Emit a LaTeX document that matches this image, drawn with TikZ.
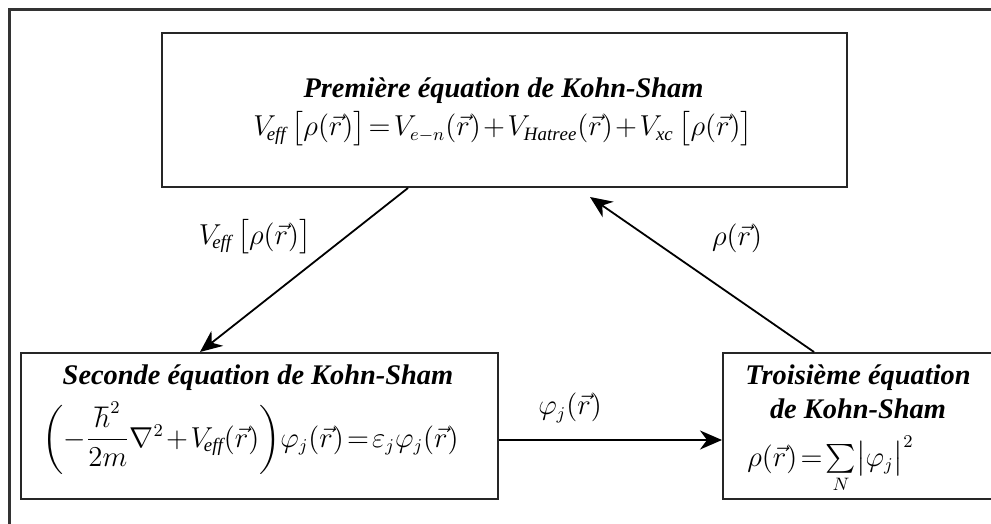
\documentclass[tikz,border=0pt]{standalone}
\usepackage{amsmath}
\usepackage{fontspec}
\setmainfont{Liberation Serif}
\usetikzlibrary{arrows.meta}
\newcommand{\tightsp}{\thickmuskip=2mu\relax\medmuskip=1.5mu\relax}
\tikzset{
  box/.style={draw=black!85, line width=1pt, rectangle, inner sep=0pt},
  ttl/.style={font=\fontsize{14.2}{17}\selectfont\bfseries\itshape, inner sep=0pt, anchor=base, align=center},
  eqn/.style={font=\fontsize{13.5}{17}\selectfont, inner sep=0pt, anchor=base},
  lbl/.style={font=\fontsize{13.5}{17}\selectfont, inner sep=0pt},
  arr/.style={line width=0.9pt, -{Stealth[length=11pt,width=9.5pt,inset=3.5pt]}},
  frame/.style={draw=black!80, line width=1.4pt}
}
\begin{document}
\begin{tikzpicture}[x=0.5pt,y=-0.5pt]
\useasboundingbox (0,0) rectangle (991,524);
\clip (0,0) rectangle (991,524);
\fill[white] (0,0) rectangle (991,524);
% outer frame (top and left edges)
\draw[frame] (9.5,530) -- (9.5,9.5) -- (1000,9.5);
% boxes
\node[box, minimum width=342.5pt, minimum height=77pt] (top) at (504.5,110) {};
\node[box, minimum width=238.5pt, minimum height=73pt] (left) at (259.5,426) {};
\node[box, minimum width=135pt, minimum height=73pt] (right) at (858,426) {};
% texts
\node[ttl] (t1) at (503.5,98) {Première équation de Kohn-Sham};
\node[eqn] (e1) at (503,136) {$\tightsp V_{\!\mathit{eff}}\,\bigl[\rho(\vec r)\bigr]=V_{e-n}(\vec r)+V_{\mathit{Hatree}}(\vec r)+V_{\mathit{xc}}\,\bigl[\rho(\vec r)\bigr]$};
\node[ttl] (t2) at (258,384) {Seconde équation de Kohn-Sham};
\node[eqn, anchor=base west] (e2) at (42,447) {$\tightsp{\left(-\dfrac{\hbar^2}{2m}\nabla^2+V_{\!\mathit{eff}}(\vec r)\right)}\varphi_j(\vec r)=\varepsilon_j\varphi_j(\vec r)$};
\node[ttl] (t3) at (858,418) {Troisième équation\\de Kohn-Sham};
\node[eqn, anchor=base west] (e3) at (747,466) {$\tightsp\rho(\vec r)=\sum\limits_{N}\bigl|\varphi_j\bigr|^2$};
% connectors
\draw[arr] ([xshift=-48.25pt]top.south) -- ([xshift=-29.75pt]left.north);
\draw[arr] ([xshift=-22pt]right.north) -- ([xshift=42.75pt,yshift=-4.5pt]top.south);
\draw[arr] ([yshift=-7pt]left.east) -- ([yshift=-7pt]right.west);
% connector labels
\node[lbl] (l1) at (255,237) {$V_{\!\mathit{eff}}\,\bigl[\rho(\vec r)\bigr]$};
\node[lbl] (l2) at (737,238) {$\rho(\vec r)$};
\node[lbl] (l3) at (570,408) {$\varphi_j(\vec r)$};
\end{tikzpicture}
\end{document}
